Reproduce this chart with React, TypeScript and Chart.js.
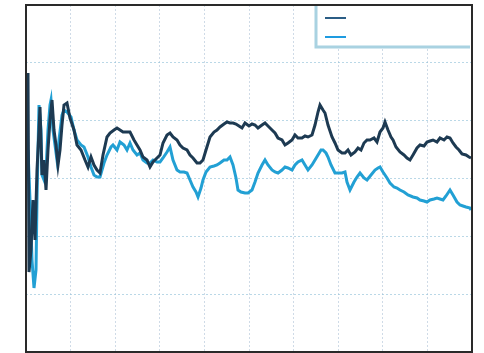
import React, { useEffect, useRef } from "react";
import { Chart, registerables } from "chart.js";

Chart.register(...registerables);

// Horizontal position (iteration step, 0..446) and value (0..347)
const darkX = [2,3,5,7,9,11,13,14,16,18,20,22,24,26,28,30,32,34,36,38,41,44,48,51,55,59,62,65,68,71,74,77,81,84,88,91,94,97,100,104,108,111,114,117,121,124,127,131,134,137,141,144,147,151,154,157,161,164,167,171,174,177,180,184,188,191,194,198,201,204,207,210,213,216,219,223,226,229,232,236,239,242,246,249,252,256,259,262,266,269,272,276,279,282,286,289,292,294,297,299,302,306,309,312,316,319,322,325,329,332,335,338,341,344,348,351,354,357,359,362,365,367,370,374,378,381,384,387,391,394,398,401,404,407,411,414,418,421,424,427,430,433,436,440,443,445];
const darkY = [279,80,102,152,112,182,222,245,177,192,162,202,232,252,222,207,187,202,227,247,249,234,222,207,202,192,185,195,187,182,179,197,215,219,222,224,222,220,220,220,212,207,202,195,192,185,190,194,197,209,217,219,215,212,207,204,202,197,194,189,189,192,202,215,220,222,225,228,230,229,229,228,226,224,229,226,228,227,224,227,229,226,222,219,214,212,207,209,212,217,214,214,216,215,217,227,240,247,242,239,227,215,209,202,199,199,202,197,200,204,202,209,212,212,214,210,220,224,230,222,215,212,205,200,197,194,192,197,204,207,206,210,211,212,210,214,212,215,214,209,205,202,198,197,195,194];

const lightX = [2,4,6,8,10,11,12,13,15,16,18,20,22,24,25,27,29,31,33,36,38,41,45,48,51,55,58,62,65,68,71,74,78,81,85,87,91,94,98,101,104,107,111,114,117,121,124,127,131,134,137,141,144,147,151,154,158,161,164,167,170,172,175,177,180,184,188,191,194,198,201,204,207,210,212,215,219,222,226,229,232,236,239,242,246,249,252,256,259,262,266,269,272,276,279,282,286,289,292,295,297,300,302,305,309,312,316,319,321,324,328,331,334,338,341,345,349,352,354,357,361,364,368,371,374,378,382,387,391,394,398,401,404,408,411,414,417,420,424,427,431,434,437,440,444,445];
const lightY = [202,152,92,64,82,152,202,247,222,177,172,182,222,247,252,222,207,192,212,237,242,240,235,222,212,207,205,195,185,177,175,175,189,197,205,207,202,210,207,202,209,202,197,199,192,189,189,192,190,190,194,200,205,192,182,180,180,179,172,165,160,155,164,172,180,185,186,187,189,192,192,195,187,174,162,160,159,159,162,170,179,187,192,187,182,180,179,182,185,184,182,187,190,192,187,182,187,192,197,202,202,199,195,187,179,179,179,180,170,162,170,175,179,174,172,177,182,184,185,180,174,169,165,164,162,160,157,155,154,152,151,150,152,153,154,153,152,156,162,157,150,147,146,145,144,142];

const darkLabel = "Series 1";
const lightLabel = "Series 2";
const darkColor = "#1d3a52";
const lightColor = "#22a0d4";

const xMax = 446;
const yMax = 347;

const framePlugin = {
  id: "frameAndLegend",
  afterDraw(chart: any) {
    const { ctx, chartArea } = chart;
    const { left, top, right, bottom } = chartArea;
    ctx.save();
    // legend box (top right, inside plot)
    const lx = right - 156;
    const ly = top;
    const lw = 154;
    const lh = 42;
    ctx.fillStyle = "#ffffff";
    ctx.fillRect(lx, ly, lw, lh);
    ctx.strokeStyle = "rgba(140,195,215,0.75)";
    ctx.lineWidth = 3;
    ctx.beginPath();
    ctx.moveTo(lx, ly);
    ctx.lineTo(lx, ly + lh);
    ctx.lineTo(lx + lw, ly + lh);
    ctx.stroke();
    const ds = chart.data.datasets;
    ds.forEach((d: any, i: number) => {
      ctx.strokeStyle = i === 0 ? "#2b5d85" : "#1e9be0";
      ctx.lineWidth = 2;
      ctx.beginPath();
      const yy = ly + 13 + i * 19;
      ctx.moveTo(lx + 9, yy);
      ctx.lineTo(lx + 30, yy);
      ctx.stroke();
    });
    // frame
    ctx.strokeStyle = "#2a2a2a";
    ctx.lineWidth = 2;
    ctx.strokeRect(left, top, right - left, bottom - top);
    ctx.restore();
  },
};

export default function App() {
  const ref = useRef<HTMLCanvasElement | null>(null);
  useEffect(() => {
    document.body.style.margin = "0";
    const canvas = ref.current;
    if (!canvas) return;
    const toPts = (xs: number[], ys: number[]) => xs.map((x, i) => ({ x, y: ys[i] }));
    const chart = new Chart(canvas, {
      type: "line",
      data: {
        datasets: [
          {
            label: darkLabel,
            data: toPts(darkX, darkY),
            borderColor: darkColor,
            borderWidth: 3,
            pointRadius: 0,
            tension: 0,
          },
          {
            label: lightLabel,
            data: toPts(lightX, lightY),
            borderColor: lightColor,
            borderWidth: 3,
            pointRadius: 0,
            tension: 0,
          },
        ],
      },
      options: {
        animation: false,
        responsive: false,
        layout: { padding: { left: 26, top: 5, right: 12, bottom: 1 } },
        plugins: { legend: { display: false }, tooltip: { enabled: false } },
        scales: {
          x: {
            type: "linear",
            min: 0,
            max: xMax,
            ticks: { display: false, stepSize: xMax / 10 },
            grid: { color: "rgba(175,195,215,0.6)", drawTicks: false, lineWidth: 1 },
            border: { display: false, dash: [2, 2] },
          },
          y: {
            min: 0,
            max: yMax,
            ticks: { display: false, stepSize: yMax / 6 },
            grid: { color: "rgba(140,190,215,0.6)", drawTicks: false, lineWidth: 1 },
            border: { display: false, dash: [2, 2] },
          },
        },
      },
      plugins: [framePlugin],
    });
    return () => chart.destroy();
  }, []);
  return (
    <div style={{ width: 484, height: 353, background: "#ffffff" }}>
      <canvas ref={ref} width={484} height={353} />
    </div>
  );
}
